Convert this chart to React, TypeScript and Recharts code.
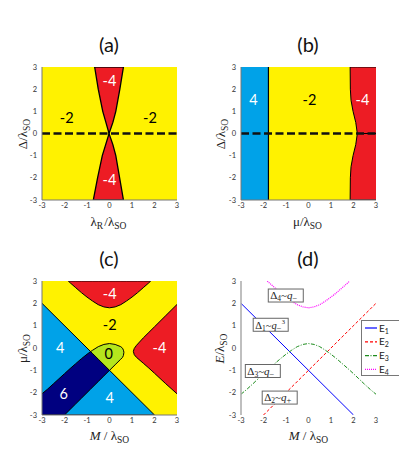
import React from 'react';
import { ComposedChart, Area, Line, Scatter, XAxis, YAxis, Legend } from 'recharts';

const SANS = 'Lato, "Liberation Sans", sans-serif';
const SERIF = '"Liberation Serif", serif';
const YELLOW = '#FFF200';
const RED = '#ED1C24';
const LBLUE = '#00A2E8';
const NAVY = '#000080';
const LIME = '#B5E61D';

const TICKS = [-3, -2, -1, 0, 1, 2, 3];
const DOMAIN: [number, number] = [-3, 3];
const FULL_X = [-3, 3];
const FULL_LO = [-3, -3];
const FULL_HI = [3, 3];
const ZERO_Y = [0, 0];

// ---------- panel (a) ----------
const aTopX = [-0.66, -0.5, -0.3, -0.16, -0.02, 0.15, 0.28, 0.46, 0.62];
const aTopEdge = [3, 2, 1, 0.5, 0, 0.5, 1, 2, 3];
const aBotX = [-0.72, -0.53, -0.32, -0.17, -0.02, 0.15, 0.28, 0.45, 0.62];
const aBotEdge = [-3, -2, -1, -0.5, 0, -0.5, -1, -2, -3];
const aLabelX = [-1.9, 1.8, 0, 0];
const aLabelY = [0.73, 0.73, 2.4, -2.1];
const aLabelText = ['-2', '-2', '-4', '-4'];
const aLabelColor = ['#000', '#000', '#fff', '#fff'];

// ---------- panel (b) ----------
const bBlueX = [-3, -1.78];
const bBlueEdgeX = [-1.78, -1.78];
const bBlueEdgeY = [-3, 3];
const bRedX = [1.85, 1.86, 1.89, 1.98, 2.1, 2.17, 3];
const bRedEdge = [3, 2, 1.5, 1, 0.5, 0, 0];
const bRedEdgeNeg = [-3, -2, -1.5, -1, -0.5, 0, 0];
const bLabelX = [-2.45, 0.04, 2.4];
const bLabelY = [1.5, 1.5, 1.5];
const bLabelText = ['4', '-2', '-4'];
const bLabelColor = ['#fff', '#000', '#fff'];

// ---------- curves shared by (c) and (d) ----------
const e1M = [-3, 2];
const e1E = [2, -3];
const e2M = [-2, 3];
const e2E = [-3, 2];
const e3M = [-3, -2.75, -2.5, -2.25, -2, -1.75, -1.5, -1.25, -1, -0.75, -0.5, -0.25, 0, 0.25, 0.5, 0.75, 1, 1.25, 1.5, 1.75, 2, 2.25, 2.5, 2.75, 3];
const e3E = [-2.07, -1.86, -1.63, -1.39, -1.15, -0.92, -0.7, -0.48, -0.28, -0.1, 0.06, 0.16, 0.2, 0.16, 0.06, -0.1, -0.28, -0.48, -0.7, -0.92, -1.15, -1.39, -1.63, -1.86, -2.07];
const e4M = [-1.83, -1.75, -1.5, -1.25, -1, -0.75, -0.5, -0.25, 0, 0.25, 0.5, 0.75, 1, 1.25, 1.5, 1.75, 1.83];
const e4E = [3, 2.92, 2.7, 2.48, 2.28, 2.1, 1.94, 1.84, 1.8, 1.84, 1.94, 2.1, 2.28, 2.48, 2.7, 2.92, 3];

// ---------- panel (c) ----------
const cBlueLo = [-3, -3];
const cNavyM = [-3, -2.75, -2.5, -2.25, -2, -1.75, -1.5, -1.25, -1, -0.84, -0.5, -0.25, 0];
const cNavyLo = [-3, -3, -3, -3, -3, -2.75, -2.5, -2.25, -2, -1.84, -1.5, -1.25, -1];
const cNavyHi = [-2.05, -1.84, -1.61, -1.38, -1.15, -0.92, -0.7, -0.48, -0.28, -0.16, -0.5, -0.75, -1];
const cGreenM = [-0.84, -0.75, -0.5, -0.25, 0, 0.25, 0.5, 0.58, 0.62, 0.64];
const cGreenLo = [-0.16, -0.25, -0.5, -0.75, -1, -0.75, -0.5, -0.42, -0.33, -0.19];
const cGreenHi = [-0.16, -0.1, 0.06, 0.16, 0.2, 0.16, 0.06, -0.01, -0.1, -0.19];
const cRedTopHi = e4M.map(() => 3);
const cRedRM = [1.06, 1.1, 1.2, 1.5, 1.75, 2, 2.5, 3];
const cRedRLo = [-0.15, -0.3, -0.42, -0.68, -0.9, -1.13, -1.6, -2.05];
const cRedRHi = [-0.15, -0.02, 0.12, 0.45, 0.7, 0.95, 1.45, 1.95];
const cLabelX = [0.01, 0.01, -2.19, -0.03, 2.22, -2.04, 0.01];
const cLabelY = [2.45, 1.03, -0.01, -0.28, -0.01, -2.03, -2.22];
const cLabelText = ['-4', '-2', '4', '0', '-4', '6', '4'];
const cLabelColor = ['#fff', '#000', '#fff', '#000', '#fff', '#fff', '#fff'];

// ---------- panel (d) ----------
const annX = [-1.01, -1.68, -2.03, -1.28];
const annY = [2.35, 1.04, -1.03, -2.22];
const annDelta = ['4', '1', '3', '2'];
const annQSub = ['\u2212', '\u2212', '\u2212', '+'];
const annQSup = ['', '3', '', ''];
const legendNames = ['1', '2', '3', '4'];
const legendColors = ['#0000FF', '#FF0000', '#1E8C1E', '#FF00FF'];
const legendDash = ['', '3 2', '4 1.5 1 1.5', '1 1'];

const zip = (xs: number[], ys: number[]) => xs.map((x, i) => ({ x, y: ys[i] }));
const zipRange = (xs: number[], lo: number[], hi: number[]) => xs.map((x, i) => ({ x, r: [lo[i], hi[i]] }));
const labels = (xs: number[], ys: number[], t: string[], c: string[]) => xs.map((x, i) => ({ x, y: ys[i], text: t[i], color: c[i] }));

const tickStyle = { fontSize: 7.5, fill: '#333', fontFamily: SANS };
const MARGIN = { top: 67, right: 23, bottom: 20, left: 12 };

const RegionLabel = (p: any) => (
  <text x={p.cx} y={p.cy} dy="0.36em" textAnchor="middle" fontSize={14.5} fontFamily={SANS} fill={p.payload.color}>
    {p.payload.text}
  </text>
);

const AnnotShape = (p: any) => {
  const { cx, cy, payload } = p;
  const w = 35;
  const h = 13;
  const x0 = cx - w / 2;
  return (
    <g>
      <rect x={x0} y={cy - h / 2} width={w} height={h} fill="#fff" stroke="#666" strokeWidth={1} />
      <text x={x0 + 2} y={cy + 3.8} fontFamily={SERIF} fontSize={payload.sup ? 10.5 : 11} fill="#222">
        <tspan>Δ</tspan>
        <tspan fontSize={7.5} dy={2}>{payload.d}</tspan>
        <tspan dy={-2}>~</tspan>
        <tspan fontStyle="italic">q</tspan>
        <tspan fontSize={8.5} dy={2}>{payload.qs}</tspan>
        {payload.sup ? <tspan fontSize={6.5} dx={0.2} dy={-6.5}>{payload.sup}</tspan> : null}
      </text>
    </g>
  );
};

const LegendBox = () => (
  <div style={{ width: 40, height: 56, border: '1px solid #777', background: '#fff', boxSizing: 'border-box' }}>
    <svg width={38} height={54}>
      {legendNames.map((n, i) => {
        const y = 7 + i * 13.8;
        return (
          <g key={n}>
            <line x1={3} x2={15} y1={y} y2={y} stroke={legendColors[i]} strokeWidth={1.2} strokeDasharray={legendDash[i] || undefined} />
            <text x={17} y={y + 3.5} fontFamily={SANS} fontSize={10} fill="#222">
              E<tspan fontSize={7} dy={2}>{n}</tspan>
            </text>
          </g>
        );
      })}
    </svg>
  </div>
);

const areaProps = {
  type: 'linear' as const,
  dataKey: 'r',
  stroke: '#000',
  strokeWidth: 1,
  fillOpacity: 1,
  isAnimationActive: false,
  dot: false,
  activeDot: false,
};

const frameAxes = () => [
  <XAxis key="xb" dataKey="x" type="number" domain={DOMAIN} ticks={TICKS} axisLine={{ stroke: '#777' }} tickLine={false} tickSize={3} tickMargin={0} tick={tickStyle} height={20} allowDataOverflow />,
  <XAxis key="xt" xAxisId="top" orientation="top" type="number" domain={DOMAIN} height={0} tick={false} tickLine={false} axisLine={{ stroke: '#777' }} />,
  <YAxis key="yl" dataKey="y" type="number" domain={DOMAIN} ticks={TICKS} axisLine={{ stroke: '#777' }} tickLine={false} tickSize={3} tickMargin={2} tick={tickStyle} width={30} allowDataOverflow />,
  <YAxis key="yr" yAxisId="right" orientation="right" type="number" domain={DOMAIN} width={0} tick={false} tickLine={false} axisLine={{ stroke: '#777' }} />,
];

const Pos = ({ left, top, children }: any) => (
  <div style={{ position: 'absolute', left, top }}>{children}</div>
);

const T = ({ x, y, rot, size = 13, children }: any) => (
  <text x={x} y={y} textAnchor="middle" fontFamily={SERIF} fontSize={size} fill="#222" transform={rot ? `rotate(-90 ${x} ${y})` : undefined}>
    {children}
  </text>
);
const Sub = ({ children }: any) => (
  <>
    <tspan fontSize={9.5} dy={3}>{children}</tspan>
    <tspan dy={-3}>{'\u200a'}</tspan>
  </>
);

export default function App() {
  return (
    <div style={{ position: 'fixed', left: 0, top: 0, width: 399, height: 475, overflow: 'hidden', background: '#fff' }}>
      {/* (a) */}
      <Pos left={0} top={0}>
        <ComposedChart width={200} height={240} margin={MARGIN}>
          {frameAxes()}
          <Area {...areaProps} data={zipRange(FULL_X, FULL_LO, FULL_HI)} fill={YELLOW} stroke="none" />
          <Area {...areaProps} data={zipRange(aTopX, aTopEdge, aTopX.map(() => 3))} fill={RED} strokeWidth={1.3} />
          <Area {...areaProps} data={zipRange(aBotX, aBotX.map(() => -3), aBotEdge)} fill={RED} strokeWidth={1.3} />
          <Line data={zip(FULL_X, ZERO_Y)} dataKey="y" stroke="#111" strokeWidth={2.6} strokeDasharray="8 3.5" dot={false} activeDot={false} isAnimationActive={false} />
          <Scatter data={labels(aLabelX, aLabelY, aLabelText, aLabelColor)} dataKey="y" shape={RegionLabel} isAnimationActive={false} />
        </ComposedChart>
      </Pos>
      {/* (b) */}
      <Pos left={199} top={0}>
        <ComposedChart width={200} height={240} margin={MARGIN}>
          {frameAxes()}
          <Area {...areaProps} data={zipRange(FULL_X, FULL_LO, FULL_HI)} fill={YELLOW} stroke="none" />
          <Area {...areaProps} data={zipRange(bBlueX, FULL_LO, FULL_HI)} fill={LBLUE} stroke="none" />
          <Area {...areaProps} data={zipRange(bRedX, bRedEdge, bRedX.map(() => 3))} fill={RED} />
          <Area {...areaProps} data={zipRange(bRedX, bRedX.map(() => -3), bRedEdgeNeg)} fill={RED} />
          <Line data={zip(bBlueEdgeX, bBlueEdgeY)} dataKey="y" stroke="#000" strokeWidth={1.2} dot={false} activeDot={false} isAnimationActive={false} />
          <Line data={zip(FULL_X, ZERO_Y)} dataKey="y" stroke="#111" strokeWidth={2.6} strokeDasharray="8 3.5" dot={false} activeDot={false} isAnimationActive={false} />
          <Scatter data={labels(bLabelX, bLabelY, bLabelText, bLabelColor)} dataKey="y" shape={RegionLabel} isAnimationActive={false} />
        </ComposedChart>
      </Pos>
      {/* (c) */}
      <Pos left={0} top={214}>
        <ComposedChart width={200} height={241} margin={MARGIN}>
          {frameAxes()}
          <Area {...areaProps} data={zipRange(FULL_X, FULL_LO, FULL_HI)} fill={YELLOW} stroke="none" />
          <Area {...areaProps} data={zipRange(e1M, cBlueLo, e1E)} fill={LBLUE} />
          <Area {...areaProps} data={zipRange(cNavyM, cNavyLo, cNavyHi)} fill={NAVY} />
          <Area {...areaProps} data={zipRange(cGreenM, cGreenLo, cGreenHi)} fill={LIME} />
          <Area {...areaProps} data={zipRange(e4M, e4E, cRedTopHi)} fill={RED} />
          <Area {...areaProps} data={zipRange(cRedRM, cRedRLo, cRedRHi)} fill={RED} />
          <Scatter data={labels(cLabelX, cLabelY, cLabelText, cLabelColor)} dataKey="y" shape={RegionLabel} isAnimationActive={false} />
        </ComposedChart>
      </Pos>
      {/* (d) */}
      <Pos left={199} top={214}>
        <ComposedChart width={200} height={241} margin={MARGIN}>
          <XAxis dataKey="x" type="number" domain={DOMAIN} ticks={TICKS} axisLine={false} tickLine={false} tickSize={3} tickMargin={0} tick={tickStyle} height={20} allowDataOverflow />
          <YAxis dataKey="y" type="number" domain={DOMAIN} ticks={TICKS} axisLine={{ stroke: '#aaa', strokeWidth: 1.5 }} tickLine={false} tickSize={3} tickMargin={2} tick={tickStyle} width={30} allowDataOverflow />
          <YAxis yAxisId="right" orientation="right" type="number" domain={DOMAIN} width={0} tick={false} tickLine={false} axisLine={{ stroke: '#555' }} />
          <Line data={zip(e1M, e1E)} dataKey="y" name="E1" stroke={legendColors[0]} strokeWidth={1} dot={false} activeDot={false} isAnimationActive={false} />
          <Line data={zip(e2M, e2E)} dataKey="y" name="E2" stroke={legendColors[1]} strokeWidth={1} strokeDasharray={legendDash[1]} dot={false} activeDot={false} isAnimationActive={false} />
          <Line data={zip(e3M, e3E)} dataKey="y" name="E3" stroke={legendColors[2]} strokeWidth={1} strokeDasharray={legendDash[2]} dot={false} activeDot={false} isAnimationActive={false} />
          <Line data={zip(e4M, e4E)} dataKey="y" name="E4" stroke={legendColors[3]} strokeWidth={1.2} strokeDasharray={legendDash[3]} dot={false} activeDot={false} isAnimationActive={false} />
          <Scatter
            data={annX.map((x, i) => ({ x, y: annY[i], d: annDelta[i], qs: annQSub[i], sup: annQSup[i] }))}
            dataKey="y"
            shape={AnnotShape}
            isAnimationActive={false}
          />
          <Legend layout="vertical" align="center" verticalAlign="middle" wrapperStyle={{ left: 162, top: 106, width: 40, height: 56 }} content={() => <LegendBox />} />
        </ComposedChart>
      </Pos>
      {/* titles and axis labels */}
      <svg width={399} height={475} style={{ position: 'absolute', left: 0, top: 0, pointerEvents: 'none' }}>
        <g fontFamily={SANS} fontSize={20} fill="#111" textAnchor="middle">
          <text x={109} y={52}>(a)</text>
          <text x={308} y={52}>(b)</text>
          <text x={109} y={266}>(c)</text>
          <text x={308} y={266}>(d)</text>
        </g>
        <T x={109} y={226}>λ<Sub>R</Sub>/λ<Sub>SO</Sub></T>
        <T x={27} y={133.5} rot>Δ/λ<Sub>SO</Sub></T>
        <T x={308} y={226}>μ/λ<Sub>SO</Sub></T>
        <T x={225} y={133.5} rot>Δ/λ<Sub>SO</Sub></T>
        <T x={110} y={440}><tspan fontStyle="italic">M</tspan> / λ<Sub>SO</Sub></T>
        <T x={26.5} y={348} rot>μ/λ<Sub>SO</Sub></T>
        <T x={309} y={440}><tspan fontStyle="italic">M</tspan> / λ<Sub>SO</Sub></T>
        <T x={224} y={348} rot><tspan fontStyle="italic">E</tspan>/λ<Sub>SO</Sub></T>
      </svg>
    </div>
  );
}
